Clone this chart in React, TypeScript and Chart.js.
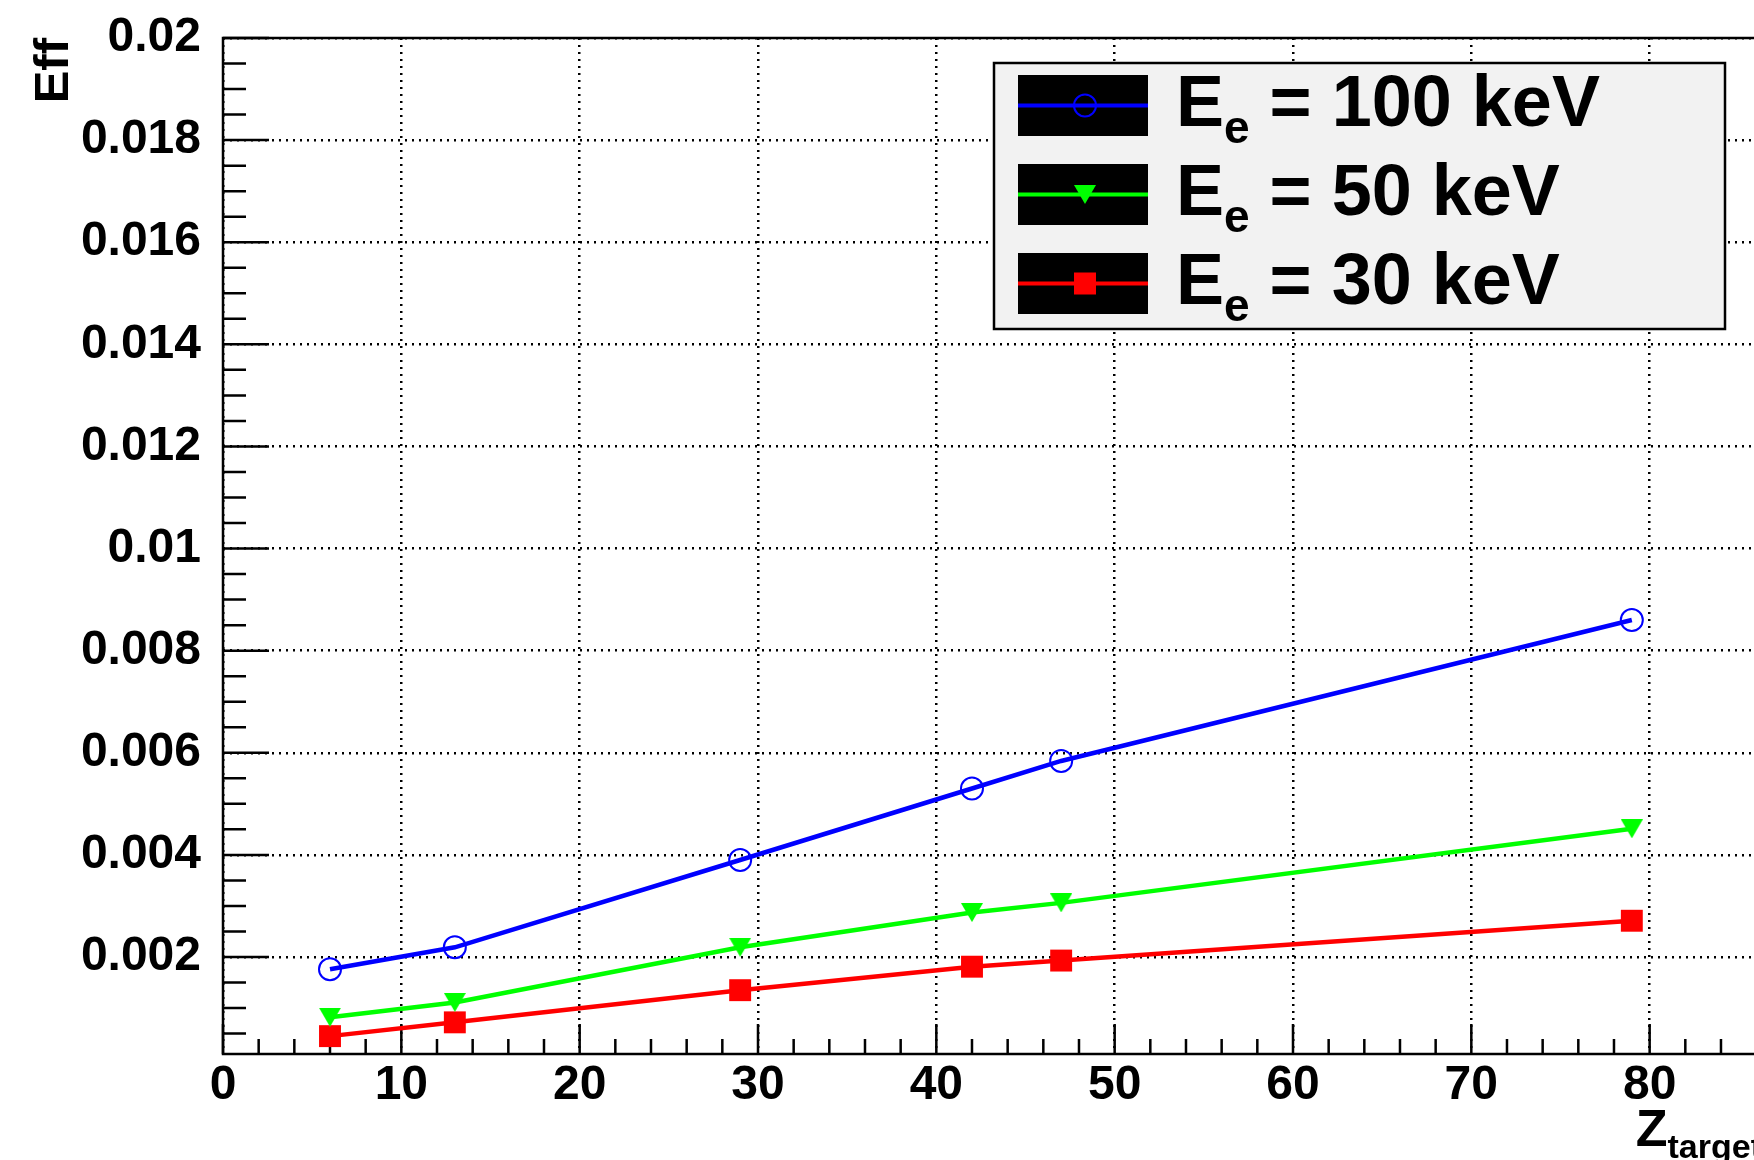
import React, { useEffect, useRef } from 'react';
import { Chart, registerables } from 'chart.js';

Chart.register(...registerables);

// ---- data ----
const zTarget = [6, 13, 29, 42, 47, 79];
const eff100keV = [0.00176, 0.00219, 0.0039, 0.0053, 0.00584, 0.0086];
const eff50keV = [0.00082, 0.00111, 0.00219, 0.00287, 0.00306, 0.00451];
const eff30keV = [0.00045, 0.00072, 0.00135, 0.00181, 0.00193, 0.00271];
const seriesEnergies = ['100', '50', '30'];
const seriesColors = ['#0000ff', '#00ff00', '#ff0000'];
const xTicks = [0, 10, 20, 30, 40, 50, 60, 70, 80];
const yTicks = [0.002, 0.004, 0.006, 0.008, 0.01, 0.012, 0.014, 0.016, 0.018, 0.02];
const xRange = [0, 86.3];
const yRange = [0.0001, 0.02];
const xMinorStep = 2;
const yMinorStep = 0.0005;

const FONT = '"Liberation Sans", Arial, Helvetica, sans-serif';

function makeTriangleDown(color: string): HTMLCanvasElement {
  const c = document.createElement('canvas');
  c.width = 22;
  c.height = 19;
  const g = c.getContext('2d')!;
  g.fillStyle = color;
  g.beginPath();
  g.moveTo(0, 0);
  g.lineTo(22, 0);
  g.lineTo(11, 19);
  g.closePath();
  g.fill();
  return c;
}

function drawMarker(ctx: CanvasRenderingContext2D, kind: number, x: number, y: number, color: string) {
  ctx.save();
  if (kind === 0) {
    ctx.strokeStyle = color;
    ctx.lineWidth = 2;
    ctx.beginPath();
    ctx.arc(x, y, 11, 0, Math.PI * 2);
    ctx.stroke();
  } else if (kind === 1) {
    ctx.fillStyle = color;
    ctx.beginPath();
    ctx.moveTo(x - 11, y - 9.5);
    ctx.lineTo(x + 11, y - 9.5);
    ctx.lineTo(x, y + 9.5);
    ctx.closePath();
    ctx.fill();
  } else {
    ctx.fillStyle = color;
    ctx.fillRect(x - 11, y - 11, 22, 22);
  }
  ctx.restore();
}

const rootStylePlugin = {
  id: 'rootStyle',
  beforeDatasetsDraw(chart: any) {
    const { ctx, chartArea } = chart;
    const xs = chart.scales.x;
    const ys = chart.scales.y;
    ctx.save();
    ctx.strokeStyle = '#000';
    ctx.lineWidth = 2.5;
    // frame
    ctx.strokeRect(chartArea.left, chartArea.top, chartArea.right - chartArea.left, chartArea.bottom - chartArea.top);
    // x ticks (inside, bottom)
    ctx.beginPath();
    for (let v = xRange[0]; v <= xRange[1] + 1e-9; v += xMinorStep) {
      const px = xs.getPixelForValue(v);
      const major = xTicks.some((t) => Math.abs(t - v) < 1e-9);
      const len = major ? 30 : 15;
      ctx.moveTo(px, chartArea.bottom);
      ctx.lineTo(px, chartArea.bottom - len);
    }
    // y ticks (inside, left)
    for (let k = 1; k * yMinorStep <= yRange[1] + 1e-12; k++) {
      const v = k * yMinorStep;
      if (v < yRange[0]) continue;
      const py = ys.getPixelForValue(v);
      const major = yTicks.some((t) => Math.abs(t - v) < 1e-9);
      const len = major ? 46 : 23;
      ctx.moveTo(chartArea.left, py);
      ctx.lineTo(chartArea.left + len, py);
    }
    ctx.stroke();
    ctx.restore();
  },
  afterDraw(chart: any) {
    const { ctx, chartArea } = chart;
    ctx.save();
    // legend box
    const bx = chartArea.left + 771;
    const by = chartArea.top + 25;
    const bw = 731;
    const bh = 266;
    ctx.fillStyle = '#f2f2f2';
    ctx.fillRect(bx, by, bw, bh);
    ctx.strokeStyle = '#000';
    ctx.lineWidth = 2.5;
    ctx.strokeRect(bx, by, bw, bh);
    seriesEnergies.forEach((e, i) => {
      const rowTop = by + 12 + i * 89;
      const rx = bx + 24;
      ctx.fillStyle = '#000';
      ctx.fillRect(rx, rowTop, 130, 61);
      const cy = rowTop + 30.5;
      ctx.fillStyle = seriesColors[i];
      ctx.fillRect(rx, cy - 2, 130, 4);
      drawMarker(ctx, i, rx + 67, cy, seriesColors[i]);
      // text: E_e = xx keV
      const base = by + 63 + i * 89;
      let tx = bx + 182;
      ctx.fillStyle = '#000';
      ctx.textBaseline = 'alphabetic';
      ctx.textAlign = 'left';
      ctx.font = `bold 72px ${FONT}`;
      ctx.fillText('E', tx, base);
      tx += ctx.measureText('E').width;
      ctx.font = `bold 46px ${FONT}`;
      ctx.fillText('e', tx, base + 17);
      tx += ctx.measureText('e').width;
      ctx.font = `bold 72px ${FONT}`;
      ctx.fillText(` = ${e} keV`, tx, base);
    });
    // x-axis title Z_target (right-aligned at axis end)
    ctx.fillStyle = '#000';
    ctx.textAlign = 'left';
    ctx.textBaseline = 'alphabetic';
    ctx.font = `bold 34px ${FONT}`;
    const wSub = ctx.measureText('target').width;
    ctx.font = `bold 52px ${FONT}`;
    const wZ = ctx.measureText('Z').width;
    const subX = chartArea.right - wSub;
    ctx.fillText('Z', subX - wZ, chartArea.bottom + 92);
    ctx.font = `bold 34px ${FONT}`;
    ctx.fillText('target', subX, chartArea.bottom + 104);
    ctx.restore();
  },
};

export default function App() {
  const canvasRef = useRef<HTMLCanvasElement | null>(null);

  useEffect(() => {
    const canvas = canvasRef.current;
    if (!canvas) return;
    const tri = makeTriangleDown(seriesColors[1]);
    const series = [eff100keV, eff50keV, eff30keV];
    const pointStyles: any[] = ['circle', tri, 'rect'];
    const pointRadii = [11, 11, 15.5];
    const datasets = series.map((vals, i) => ({
      label: `E_e = ${seriesEnergies[i]} keV`,
      data: zTarget.map((z, j) => ({ x: z, y: vals[j] })),
      borderColor: seriesColors[i],
      backgroundColor: seriesColors[i],
      borderWidth: 4.5,
      showLine: true,
      tension: 0,
      pointStyle: pointStyles[i],
      pointRadius: pointRadii[i],
      pointBorderWidth: i === 0 ? 2 : 0,
      pointBackgroundColor: i === 0 ? 'rgba(0,0,0,0)' : seriesColors[i],
      pointBorderColor: seriesColors[i],
      clip: false as any,
    }));

    const chart = new Chart(canvas, {
      type: 'line',
      data: { datasets },
      plugins: [rootStylePlugin],
      options: {
        animation: false,
        responsive: false,
        devicePixelRatio: 1,
        layout: { padding: { top: 38, right: 38, left: 0, bottom: 0 } },
        plugins: {
          legend: { display: false },
          tooltip: { enabled: false },
        },
        scales: {
          x: {
            type: 'linear',
            min: xRange[0],
            max: xRange[1],
            afterBuildTicks: (scale: any) => {
              scale.ticks = xTicks.map((value) => ({ value }));
            },
            afterFit: (scale: any) => {
              scale.height = 106;
              scale.paddingLeft = 0;
              scale.paddingRight = 0;
            },
            grid: {
              color: '#000',
              lineWidth: 2.5,
              drawTicks: false,
            },
            border: { display: false, dash: [2, 5] },
            ticks: {
              color: '#000',
              padding: 3,
              maxRotation: 0,
              autoSkip: false,
              font: { family: FONT, size: 48, weight: 'bold' },
              callback: (v: any) => String(v),
            },
          },
          y: {
            type: 'linear',
            min: yRange[0],
            max: yRange[1],
            afterBuildTicks: (scale: any) => {
              scale.ticks = yTicks.map((value) => ({ value }));
            },
            afterFit: (scale: any) => {
              scale.width = 223;
              scale.paddingTop = 0;
              scale.paddingBottom = 0;
            },
            grid: {
              color: '#000',
              lineWidth: 2.5,
              drawTicks: false,
            },
            border: { display: false, dash: [2, 5] },
            title: {
              display: true,
              text: 'Eff',
              align: 'end',
              color: '#000',
              font: { family: FONT, size: 49, weight: 'bold' },
              padding: { top: 25, bottom: 0 },
            },
            ticks: {
              color: '#000',
              padding: 22,
              autoSkip: false,
              font: { family: FONT, size: 48, weight: 'bold' },
              callback: (v: any) => String(parseFloat(Number(v).toFixed(6))),
            },
          },
        },
      } as any,
    });
    return () => chart.destroy();
  }, []);

  return (
    <div
      style={{
        position: 'fixed',
        left: 0,
        top: 0,
        width: '1754px',
        height: '1160px',
        overflow: 'hidden',
        background: '#fff',
      }}
    >
      <canvas ref={canvasRef} width={1800} height={1160} style={{ display: 'block', width: '1800px', height: '1160px' }} />
    </div>
  );
}
